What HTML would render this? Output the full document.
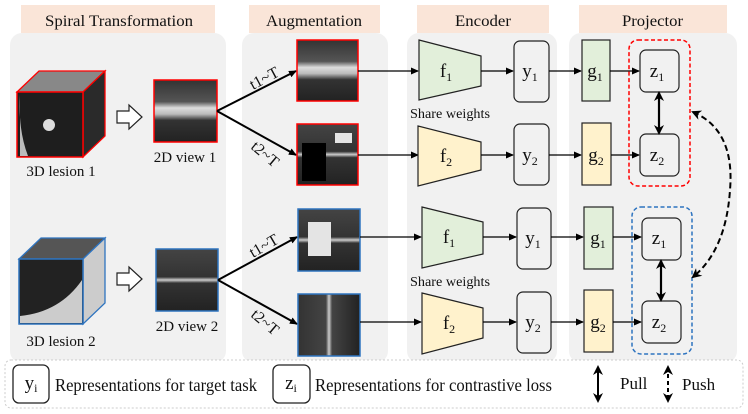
<!DOCTYPE html>
<html><head><meta charset="utf-8"><style>
html,body{margin:0;padding:0;background:#fff;width:748px;height:414px;overflow:hidden}
text{font-family:"Liberation Serif",serif;fill:#111}
</style></head><body>
<svg width="748" height="414" viewBox="0 0 748 414" xmlns="http://www.w3.org/2000/svg">
<defs>
<marker id="ah" markerWidth="8" markerHeight="8" refX="7" refY="4" orient="auto" markerUnits="userSpaceOnUse"><path d="M0,0.5 L8,4 L0,7.5 z" fill="#000"/></marker>
<marker id="ahb" markerWidth="10" markerHeight="10" refX="8" refY="5" orient="auto-start-reverse" markerUnits="userSpaceOnUse"><path d="M0,0 L10,5 L0,10 L3,5 z" fill="#000"/></marker>
<linearGradient id="ct1" x1="0" y1="0" x2="0" y2="1"><stop offset="0" stop-color="#333"/><stop offset="0.35" stop-color="#555"/><stop offset="0.45" stop-color="#ddd"/><stop offset="0.55" stop-color="#bbb"/><stop offset="0.65" stop-color="#333"/><stop offset="1" stop-color="#222"/></linearGradient>
<linearGradient id="ct2" x1="0" y1="0" x2="0" y2="1"><stop offset="0" stop-color="#444"/><stop offset="0.45" stop-color="#333"/><stop offset="0.5" stop-color="#ccc"/><stop offset="0.55" stop-color="#333"/><stop offset="1" stop-color="#222"/></linearGradient>
<linearGradient id="ct3" x1="0" y1="0" x2="1" y2="0"><stop offset="0" stop-color="#333"/><stop offset="0.45" stop-color="#444"/><stop offset="0.5" stop-color="#ccc"/><stop offset="0.55" stop-color="#444"/><stop offset="1" stop-color="#222"/></linearGradient>
</defs>

<rect x="21" y="5" width="194" height="28" fill="#fae5d8"/>
<rect x="249" y="5" width="131" height="28" fill="#fae5d8"/>
<rect x="417" y="5" width="132" height="28" fill="#fae5d8"/>
<rect x="579" y="5" width="148" height="28" fill="#fae5d8"/>
<text x="45" y="26" font-size="16" textLength="148" lengthAdjust="spacingAndGlyphs">Spiral Transformation</text>
<text x="266" y="26" font-size="16" textLength="96" lengthAdjust="spacingAndGlyphs">Augmentation</text>
<text x="455" y="26" font-size="16" textLength="56" lengthAdjust="spacingAndGlyphs">Encoder</text>
<text x="622" y="26" font-size="16" textLength="61" lengthAdjust="spacingAndGlyphs">Projector</text>

<rect x="10" y="33" width="216" height="330" rx="12" fill="#f1f1f1"/>
<rect x="242" y="33" width="146" height="330" rx="12" fill="#f1f1f1"/>
<rect x="407" y="33" width="150" height="330" rx="12" fill="#f1f1f1"/>
<rect x="569" y="33" width="168" height="330" rx="12" fill="#f1f1f1"/>

<rect x="5" y="360" width="738" height="48" rx="6" fill="#fff" stroke="#ccc" stroke-dasharray="2,2"/>
<rect x="13" y="365" width="36" height="38" rx="6" fill="#fff" stroke="#222" stroke-width="1.3"/>
<text x="31" y="389" font-size="19" text-anchor="middle">y<tspan font-size="12" dy="3">i</tspan></text>
<text x="55" y="391" font-size="18" textLength="202" lengthAdjust="spacingAndGlyphs">Representations for target task</text>
<rect x="273" y="365" width="37" height="38" rx="6" fill="#fff" stroke="#222" stroke-width="1.3"/>
<text x="291" y="389" font-size="19" text-anchor="middle">z<tspan font-size="12" dy="3">i</tspan></text>
<text x="315" y="391" font-size="18" textLength="237" lengthAdjust="spacingAndGlyphs">Representations for contrastive loss</text>
<line x1="598" y1="367" x2="598" y2="401" stroke="#000" stroke-width="2" marker-start="url(#ahb)" marker-end="url(#ahb)"/>
<text x="620" y="389" font-size="17">Pull</text>
<line x1="668" y1="367" x2="668" y2="401" stroke="#000" stroke-width="2" stroke-dasharray="4,3" marker-start="url(#ahb)" marker-end="url(#ahb)"/>
<text x="682" y="390" font-size="17">Push</text>

<polygon points="17,92 39,71 105,71 83,92" fill="#888" stroke="#f00" stroke-width="1.3"/>
<polygon points="83,92 105,71 105,136 83,157" fill="#2a2a2a" stroke="#f00" stroke-width="1.3"/>
<rect x="17" y="92" width="66" height="65" fill="#1e1e1e" stroke="#f00" stroke-width="1.5"/>
<path d="M20,95 Q18,130 28,156 L20,156 z" fill="#bbb"/>
<circle cx="49" cy="125" r="6" fill="#ddd"/>
<text x="61" y="176" font-size="15" text-anchor="middle">3D lesion 1</text>
<polygon points="117,111 129,111 129,105 142,117 129,129 129,123 117,123" fill="#fff" stroke="#222" stroke-width="1.2"/>
<rect x="154" y="80" width="63" height="62" fill="url(#ct1)" stroke="#f00" stroke-width="1.5"/>
<text x="185" y="162" font-size="15" text-anchor="middle">2D view 1</text>

<polygon points="19,259 41,238 105,238 83,259" fill="#555" stroke="#2e74c0" stroke-width="1.3"/>
<polygon points="83,259 105,238 105,303 83,324" fill="#ccc" stroke="#2e74c0" stroke-width="1.3"/>
<rect x="19" y="259" width="64" height="65" fill="#222" stroke="#2e74c0" stroke-width="1.5"/>
<path d="M20,316 Q60,312 82,280 L82,323 L20,323 z" fill="#ccc"/>
<text x="61" y="346" font-size="15" text-anchor="middle">3D lesion 2</text>
<polygon points="117,273 129,273 129,267 142,279 129,291 129,285 117,285" fill="#fff" stroke="#222" stroke-width="1.2"/>
<rect x="156" y="249" width="62" height="62" fill="url(#ct2)" stroke="#2e74c0" stroke-width="1.5"/>
<text x="187" y="331" font-size="15" text-anchor="middle">2D view 2</text>

<line x1="217" y1="111" x2="296" y2="71" stroke="#000" stroke-width="2" marker-end="url(#ah)"/>
<line x1="217" y1="111" x2="296" y2="155" stroke="#000" stroke-width="2" marker-end="url(#ah)"/>
<line x1="218" y1="280" x2="297" y2="237" stroke="#000" stroke-width="2" marker-end="url(#ah)"/>
<line x1="218" y1="280" x2="297" y2="324" stroke="#000" stroke-width="2" marker-end="url(#ah)"/>
<text x="253" y="90" font-size="16" transform="rotate(-28 253 90)">t1~T</text>
<text x="250" y="148" font-size="16" transform="rotate(40 250 148)">t2~T</text>
<text x="253" y="258" font-size="16" transform="rotate(-30 253 258)">t1~T</text>
<text x="250" y="316" font-size="16" transform="rotate(40 250 316)">t2~T</text>

<rect x="297" y="40" width="61" height="61" fill="url(#ct1)" stroke="#f00" stroke-width="1.5"/>
<rect x="297" y="124" width="61" height="61" fill="url(#ct2)" stroke="#f00" stroke-width="1.5"/>
<rect x="302" y="143" width="24" height="38" fill="#000"/>
<rect x="335" y="133" width="17" height="10" fill="#e4e4e4"/>
<rect x="298" y="209" width="62" height="62" fill="url(#ct2)" stroke="#2e74c0" stroke-width="1.5"/>
<rect x="308" y="222" width="23" height="34" fill="#e4e4e4"/>
<rect x="298" y="294" width="62" height="62" fill="url(#ct3)" stroke="#2e74c0" stroke-width="1.5"/>

<line x1="358" y1="71" x2="418" y2="71" stroke="#000" stroke-width="1.3" marker-end="url(#ah)"/>
<line x1="358" y1="155" x2="418" y2="155" stroke="#000" stroke-width="1.3" marker-end="url(#ah)"/>
<line x1="360" y1="237" x2="421" y2="237" stroke="#000" stroke-width="1.3" marker-end="url(#ah)"/>
<line x1="360" y1="322" x2="421" y2="322" stroke="#000" stroke-width="1.3" marker-end="url(#ah)"/>

<polygon points="419,40 481,56 481,86 419,100" fill="#e2efda" stroke="#222" stroke-width="1.2"/>
<text x="446" y="77" font-size="19" text-anchor="middle">f<tspan font-size="12" dy="4">1</tspan></text>
<line x1="481" y1="71" x2="513" y2="71" stroke="#000" stroke-width="1.3" marker-end="url(#ah)"/>
<rect x="514" y="41" width="35" height="61" rx="6" fill="#f1f1f1" stroke="#222" stroke-width="1.2"/>
<text x="530" y="77" font-size="19" text-anchor="middle">y<tspan font-size="12" dy="4">1</tspan></text>
<text x="410" y="118" font-size="14" textLength="80" lengthAdjust="spacingAndGlyphs">Share weights</text>
<polygon points="418,126 481,142 481,170 418,186" fill="#fff2cc" stroke="#222" stroke-width="1.2"/>
<text x="446" y="162" font-size="19" text-anchor="middle">f<tspan font-size="12" dy="4">2</tspan></text>
<line x1="481" y1="155" x2="513" y2="155" stroke="#000" stroke-width="1.3" marker-end="url(#ah)"/>
<rect x="514" y="124" width="35" height="61" rx="6" fill="#f1f1f1" stroke="#222" stroke-width="1.2"/>
<text x="530" y="161" font-size="19" text-anchor="middle">y<tspan font-size="12" dy="4">2</tspan></text>

<line x1="549" y1="71" x2="581" y2="71" stroke="#000" stroke-width="1.3" marker-end="url(#ah)"/>
<line x1="549" y1="155" x2="581" y2="155" stroke="#000" stroke-width="1.3" marker-end="url(#ah)"/>
<rect x="582" y="40" width="28" height="61" fill="#e2efda" stroke="#222" stroke-width="1.2"/>
<text x="595" y="77" font-size="19" text-anchor="middle">g<tspan font-size="12" dy="4">1</tspan></text>
<rect x="582" y="123" width="29" height="62" fill="#fff2cc" stroke="#222" stroke-width="1.2"/>
<text x="596" y="161" font-size="19" text-anchor="middle">g<tspan font-size="12" dy="4">2</tspan></text>
<line x1="610" y1="71" x2="639" y2="71" stroke="#000" stroke-width="1.3" marker-end="url(#ah)"/>
<line x1="611" y1="155" x2="639" y2="155" stroke="#000" stroke-width="1.3" marker-end="url(#ah)"/>
<rect x="640" y="50" width="39" height="42" rx="6" fill="#f1f1f1" stroke="#222" stroke-width="1.2"/>
<text x="657" y="77" font-size="19" text-anchor="middle">z<tspan font-size="12" dy="4">1</tspan></text>
<rect x="640" y="134" width="39" height="42" rx="6" fill="#f1f1f1" stroke="#222" stroke-width="1.2"/>
<text x="657" y="161" font-size="19" text-anchor="middle">z<tspan font-size="12" dy="4">2</tspan></text>
<line x1="659" y1="93" x2="659" y2="133" stroke="#000" stroke-width="2.2" marker-start="url(#ahb)" marker-end="url(#ahb)"/>
<rect x="629" y="40" width="61" height="146" rx="9" fill="none" stroke="#f00" stroke-width="1.5" stroke-dasharray="4,2.5"/>

<polygon points="422,207 483,222 483,254 422,268" fill="#e2efda" stroke="#222" stroke-width="1.2"/>
<text x="449" y="243" font-size="19" text-anchor="middle">f<tspan font-size="12" dy="4">1</tspan></text>
<line x1="483" y1="237" x2="516" y2="237" stroke="#000" stroke-width="1.3" marker-end="url(#ah)"/>
<rect x="517" y="208" width="34" height="61" rx="6" fill="#f1f1f1" stroke="#222" stroke-width="1.2"/>
<text x="533" y="244" font-size="19" text-anchor="middle">y<tspan font-size="12" dy="4">1</tspan></text>
<text x="410" y="286" font-size="14" textLength="80" lengthAdjust="spacingAndGlyphs">Share weights</text>
<polygon points="422,293 483,308 483,338 422,354" fill="#fff2cc" stroke="#222" stroke-width="1.2"/>
<text x="449" y="329" font-size="19" text-anchor="middle">f<tspan font-size="12" dy="4">2</tspan></text>
<line x1="483" y1="322" x2="516" y2="322" stroke="#000" stroke-width="1.3" marker-end="url(#ah)"/>
<rect x="517" y="292" width="34" height="61" rx="6" fill="#f1f1f1" stroke="#222" stroke-width="1.2"/>
<text x="533" y="328" font-size="19" text-anchor="middle">y<tspan font-size="12" dy="4">2</tspan></text>
<line x1="551" y1="237" x2="583" y2="237" stroke="#000" stroke-width="1.3" marker-end="url(#ah)"/>
<line x1="551" y1="322" x2="583" y2="322" stroke="#000" stroke-width="1.3" marker-end="url(#ah)"/>
<rect x="584" y="207" width="29" height="62" fill="#e2efda" stroke="#222" stroke-width="1.2"/>
<text x="598" y="244" font-size="19" text-anchor="middle">g<tspan font-size="12" dy="4">1</tspan></text>
<rect x="584" y="290" width="29" height="62" fill="#fff2cc" stroke="#222" stroke-width="1.2"/>
<text x="598" y="328" font-size="19" text-anchor="middle">g<tspan font-size="12" dy="4">2</tspan></text>
<line x1="613" y1="237" x2="641" y2="237" stroke="#000" stroke-width="1.3" marker-end="url(#ah)"/>
<line x1="613" y1="322" x2="641" y2="322" stroke="#000" stroke-width="1.3" marker-end="url(#ah)"/>
<rect x="642" y="218" width="39" height="42" rx="6" fill="#f1f1f1" stroke="#222" stroke-width="1.2"/>
<text x="659" y="244" font-size="19" text-anchor="middle">z<tspan font-size="12" dy="4">1</tspan></text>
<rect x="642" y="301" width="39" height="42" rx="6" fill="#f1f1f1" stroke="#222" stroke-width="1.2"/>
<text x="659" y="328" font-size="19" text-anchor="middle">z<tspan font-size="12" dy="4">2</tspan></text>
<line x1="661" y1="261" x2="661" y2="300" stroke="#000" stroke-width="2.2" marker-start="url(#ahb)" marker-end="url(#ahb)"/>
<rect x="632" y="207" width="60" height="147" rx="9" fill="none" stroke="#2e74c0" stroke-width="1.5" stroke-dasharray="4,2.5"/>

<path d="M693,112 Q735,130 730,190 Q726,250 693,277" fill="none" stroke="#000" stroke-width="2" stroke-dasharray="6,3.5" marker-start="url(#ahb)" marker-end="url(#ahb)"/>
</svg>
</body></html>
